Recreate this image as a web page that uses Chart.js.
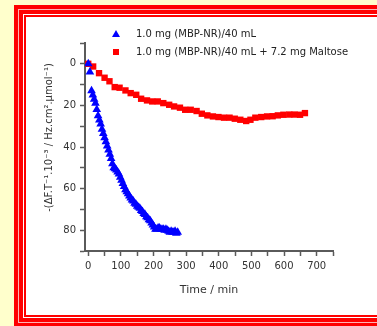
<!DOCTYPE html>
<html>
<head>
<meta charset="UTF-8" />
<script src="https://cdn.jsdelivr.net/npm/chart.js"></script>
<style>
  html, body {
    margin: 0;
    padding: 0;
    width: 377px;
    height: 326px;
    overflow: hidden;
    background: #ffffcc;
    font-family: 'DejaVu Sans', sans-serif;
  }
  .frame {
    position: absolute;
    left: 14px;
    top: 5px;
    width: 363px;
    height: 321px;
  }
  .frame div, .frame {
    box-sizing: border-box;
    border-style: solid;
  }
  .frame div { height: 100%; }
  .f1 { border-color: #ff0000; border-width: 4px 0 3px 4px; }
  .f2 { border-color: #ffb4b4; border-width: 1px 0 1px 1px; }
  .f3 { border-color: #ff0000; border-width: 4px 0 4px 4px; }
  .f4 { border-color: #ffffff; border-width: 1px 0 1px 1px; }
  .f5 { border-color: #ff0000; border-width: 2px 0 2px 2px; background: #ffffff; }
  .plot {
    position: absolute;
    left: 0;
    top: 0;
    width: 377px;
    height: 326px;
  }
  .legend {
    position: absolute;
    left: 111px;
    top: 27px;
    font-size: 10px;
    color: #222;
  }
  .legend div {
    height: 17.5px;
    line-height: 14px;
    white-space: nowrap;
  }
  .legend span.sym {
    display: inline-block;
    width: 25px;
    vertical-align: middle;
  }
  .tri {
    display: inline-block;
    width: 0;
    height: 0;
    border-left: 4px solid transparent;
    border-right: 4px solid transparent;
    border-bottom: 7px solid #0000ff;
    margin-left: 1px;
  }
  .sq {
    display: inline-block;
    width: 6px;
    height: 6px;
    background: #ff0000;
    margin-left: 2px;
  }
</style>
</head>
<body>
  <div class="frame f1"><div class="f2"><div class="f3"><div class="f4"><div class="f5"></div></div></div></div></div>
  <div class="plot"><canvas id="chart"></canvas></div>
  <div class="legend">
    <div><span class="sym"><span class="tri"></span></span>1.0 mg (MBP-NR)/40 mL</div>
    <div><span class="sym"><span class="sq"></span></span>1.0 mg (MBP-NR)/40 mL + 7.2 mg Maltose</div>
  </div>

<script>
// série 1 : MBP-NR seul (triangles bleus)
const timeA = [0, 5, 10, 14, 18, 22, 26, 30, 34, 38, 42, 46, 50, 54, 58, 62, 66, 70, 74, 78,
  82, 86, 90, 94, 98, 102, 106, 110, 114, 118, 122, 126, 130, 134, 138, 142, 146, 150, 154, 158,
  162, 166, 170, 174, 178, 182, 186, 190, 194, 198, 202, 206, 210, 214, 218, 222, 226, 230, 234, 238,
  242, 246, 250, 254, 258, 262, 266, 270, 274];
const valueA = [0, 4, 13, 15, 17, 19, 22, 25, 27, 29, 31.5, 33.5, 35.5, 37.5, 39.5, 41.5, 43.5, 45.5, 48, 50,
  50.5, 51, 52, 53, 54.5, 56, 57.5, 59, 60.5, 61.5, 62.5, 63.5, 64.5, 65.5, 66, 67, 67.5, 68.5, 69, 69.5,
  70.5, 71, 72, 72.5, 73.5, 74, 75, 75.5, 76.5, 77.5, 78.5, 79.5, 79.5, 79, 79, 79.5, 79.5, 79.5, 80, 79.5,
  80, 80.5, 81, 80.5, 81, 81, 80.5, 81.5, 81];

// série 2 : MBP-NR + maltose (carrés rouges)
const timeB = [0, 15, 33, 50, 65, 81, 96, 114, 130, 147, 162, 180, 196, 213, 230, 248, 263, 281, 297, 314,
  332, 348, 365, 382, 399, 416, 433, 449, 466, 484, 497, 512, 530, 548, 565, 581, 598, 616, 632, 649, 664];
const valueB = [0, 1.3, 4.5, 6.7, 8.4, 11.2, 11.5, 12.8, 14.1, 14.9, 16.8, 17.6, 18.1, 18.1, 18.9, 19.7, 20.5, 21.1, 22.1, 22.1,
  22.7, 24.0, 24.8, 25.3, 25.6, 25.9, 25.9, 26.4, 26.9, 27.5, 26.9, 25.9, 25.6, 25.3, 25.2, 24.8, 24.5, 24.4, 24.4, 24.5, 23.7];

const labels = ['1.0 mg (MBP-NR)/40 mL', '1.0 mg (MBP-NR)/40 mL + 7.2 mg Maltose'];
// graduations (les étiquettes seulement tous les 100 min / 20 unités)
const xTicks = [0, 50, 100, 150, 200, 250, 300, 350, 400, 450, 500, 550, 600, 650, 700, 750];
const yTicks = [-10, 0, 10, 20, 30, 40, 50, 60, 70, 80, 90];

function toPoints(xs, ys) {
  return xs.map((x, i) => ({ x: x, y: ys[i] }));
}

const axisColor = '#5a5a5a';
const tickFont = { family: 'DejaVu Sans', size: 10 };

new Chart(document.getElementById('chart'), {
  type: 'scatter',
  data: {
    datasets: [
      {
        label: labels[0],
        data: toPoints(timeA, valueA),
        pointStyle: 'triangle',
        pointRadius: 5,
        backgroundColor: '#0000ff',
        borderColor: '#0000ff',
        borderWidth: 0
      },
      {
        label: labels[1],
        data: toPoints(timeB, valueB),
        pointStyle: 'rect',
        pointRadius: 4.5,
        backgroundColor: '#ff0000',
        borderColor: '#ff0000',
        borderWidth: 0
      }
    ]
  },
  options: {
    responsive: true,
    maintainAspectRatio: false,
    animation: false,
    layout: { padding: { left: 0, top: 43, right: 44, bottom: 0 } },
    plugins: { legend: { display: false }, tooltip: { enabled: false } },
    scales: {
      x: {
        type: 'linear',
        min: -10,
        max: 750,
        afterBuildTicks: s => { s.ticks = xTicks.map(v => ({ value: v })); },
        afterFit: s => { s.height = 75; },
        border: { color: axisColor, width: 2 },
        grid: {
          drawOnChartArea: false,
          tickLength: 5,
          tickWidth: 1.5,
          tickColor: axisColor
        },
        ticks: {
          padding: 4,
          color: '#333',
          font: tickFont,
          maxRotation: 0,
          autoSkip: false,
          callback: v => (v % 100 === 0) ? v : ''
        },
        title: {
          display: true,
          text: 'Time / min',
          color: '#333',
          font: { family: 'DejaVu Sans', size: 11 },
          padding: { top: 0, bottom: 29 }
        }
      },
      y: {
        type: 'linear',
        min: -10,
        max: 90,
        reverse: true,
        afterBuildTicks: s => { s.ticks = yTicks.map(v => ({ value: v })); },
        afterFit: s => { s.width = 85; },
        border: { color: axisColor, width: 2 },
        grid: {
          drawOnChartArea: false,
          tickLength: 5,
          tickWidth: 1.5,
          tickColor: axisColor
        },
        ticks: {
          padding: 4,
          color: '#333',
          font: tickFont,
          autoSkip: false,
          callback: v => (v >= 0 && v % 20 === 0) ? v : ''
        },
        title: {
          display: true,
          text: '\u00a0\u00a0\u00a0\u00a0\u00a0\u00a0-(ΔF.T⁻¹.10⁻³ / Hz.cm².µmol⁻¹)',
          color: '#333',
          font: { family: 'DejaVu Sans', size: 10 },
          padding: { top: 43, bottom: 0 }
        }
      }
    }
  }
});
</script>
</body>
</html>
